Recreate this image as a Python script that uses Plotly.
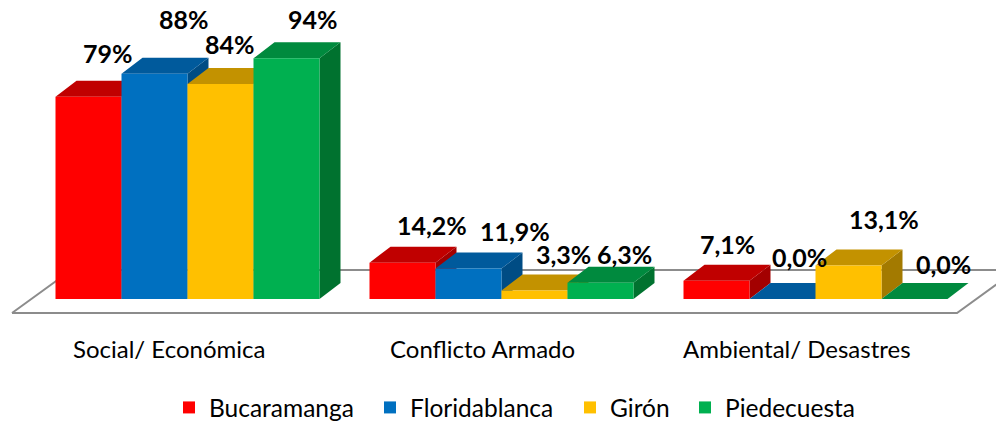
import plotly.graph_objects as go

categories = ["Social/ Económica", "Conflicto Armado", "Ambiental/ Desastres"]
series_names = ["Bucaramanga", "Floridablanca", "Girón", "Piedecuesta"]
bucaramanga = [79, 14.2, 7.1]
floridablanca = [88, 11.9, 0.0]
giron = [84, 3.3, 13.1]
piedecuesta = [94, 6.3, 0.0]
label_decimals = [0, 1, 1]

series_values = [bucaramanga, floridablanca, giron, piedecuesta]
front_colors = ["#FF0000", "#0070C0", "#FFC000", "#00B050"]
top_colors = ["#C00000", "#005A9C", "#C39200", "#008A3E"]
side_colors = ["#A30000", "#004C84", "#A37A00", "#00722F"]

# label placement tweaks (x px shift, baseline gap px) per series / category
label_offsets = [
    [(-2, 19), (8, 13), (-10, 12)],
    [(8, 30), (25, 13), (-4, 17)],
    [(-12, 15), (8, 12), (14, 21)],
    [(5, 14), (3, 4), (8, 10)],
]
# left edge (px) of each legend entry's text
legend_text_x = [207, 408, 608, 723]

# ---- geometry (pixels -> data units) ----
W, H = 996, 421
X0, SX = 187.5, 314.0   # pixel of category 0 centre, pixels per category
Y0, SY = 299.0, 2.56    # pixel of value 0, pixels per percent
def ux(px):
    return (px - X0) / SX
def uy(py):
    return (Y0 - py) / SY

BW = 66.0 / SX               # bar width in x units
DX = 21.0 / SX               # depth offset
DY = 16.0 / SY

fig = go.Figure()

# floor (parallelogram)
f_front, f_back = uy(313), uy(270)
f_l, f_r = ux(12), ux(957)
f_dx = (313 - 270) * 1.38 / SX
fig.add_trace(go.Scatter(
    x=[f_l, f_r, f_r + f_dx, f_l + f_dx, f_l],
    y=[f_front, f_front, f_back, f_back, f_front],
    mode="lines", fill="toself", fillcolor="white",
    line=dict(color="#8C8C8C", width=2),
    hoverinfo="skip", showlegend=False))

# 3D faces (side + top), painter order left to right
for j, vals in enumerate(series_values):
    sx, sy, tx, ty = [], [], [], []
    for i, v in enumerate(vals):
        xl = i + (j - 2) * BW
        xr = xl + BW
        sx += [xr, xr + DX, xr + DX, xr, xr, None]
        sy += [0, DY, v + DY, v, 0, None]
        tx += [xl, xr, xr + DX, xl + DX, xl, None]
        ty += [v, v, v + DY, v + DY, v, None]
    fig.add_trace(go.Scatter(x=sx, y=sy, mode="lines", fill="toself",
                             fillcolor=side_colors[j], line=dict(width=0, color=side_colors[j]),
                             hoverinfo="skip", showlegend=False))
    fig.add_trace(go.Scatter(x=tx, y=ty, mode="lines", fill="toself",
                             fillcolor=top_colors[j], line=dict(width=0, color=top_colors[j]),
                             hoverinfo="skip", showlegend=False))

# front faces: real bars on an overlaid axis pair so they sit above the faces
legend_ids = ["legend", "legend2", "legend3", "legend4"]
for j, vals in enumerate(series_values):
    fig.add_trace(go.Bar(
        x=list(range(len(categories))), y=vals, width=BW, offset=(j - 2) * BW,
        name=series_names[j], marker=dict(color=front_colors[j], line=dict(width=0)),
        xaxis="x2", yaxis="y2", legend=legend_ids[j], showlegend=True))

# value labels
LBL = 25
anns = []
for j, vals in enumerate(series_values):
    for i, v in enumerate(vals):
        d = label_decimals[i]
        txt = (f"{v:.{d}f}".replace(".", ",")) + "%"
        nx, gap = label_offsets[j][i]
        anns.append(dict(x=i + (j - 1.5) * BW + DX, y=v + DY, xref="x", yref="y",
                         text=txt, showarrow=False, yanchor="bottom",
                         xshift=nx, yshift=gap - 8,
                         font=dict(family="Lato", size=LBL, color="black", weight="bold")))
for i, c in enumerate(categories):
    anns.append(dict(x=i, y=uy(313), xref="x", yref="y", text=c, showarrow=False,
                     yanchor="top", xshift=-19, yshift=-19,
                     font=dict(family="Lato", size=24, color="black")))

xr_ = [ux(0), ux(W)]
yr_ = [uy(H), uy(0)]
ax_common = dict(showgrid=False, zeroline=False, showticklabels=False, showline=False,
                 ticks="", fixedrange=True)

legends = {}
for j, lid in enumerate(legend_ids):
    legends[lid] = dict(orientation="h", x=(legend_text_x[j] - 38) / W, xanchor="left",
                        y=1 - 407.5 / H, yanchor="middle",
                        font=dict(family="Lato", size=24.5, color="black"),
                        bgcolor="rgba(0,0,0,0)", borderwidth=0)

fig.update_layout(
    width=W, height=H,
    margin=dict(l=0, r=0, t=0, b=0, autoexpand=False),
    paper_bgcolor="white", plot_bgcolor="white",
    barmode="overlay",
    xaxis=dict(range=xr_, domain=[0, 1], **ax_common),
    yaxis=dict(range=yr_, domain=[0, 1], **ax_common),
    xaxis2=dict(range=xr_, overlaying="x", **ax_common),
    yaxis2=dict(range=yr_, overlaying="y", **ax_common),
    annotations=anns,
    showlegend=True,
    **legends,
)
fig.write_html("out.html", config={"displayModeBar": False},
               post_script="document.body.style.margin='0';")
